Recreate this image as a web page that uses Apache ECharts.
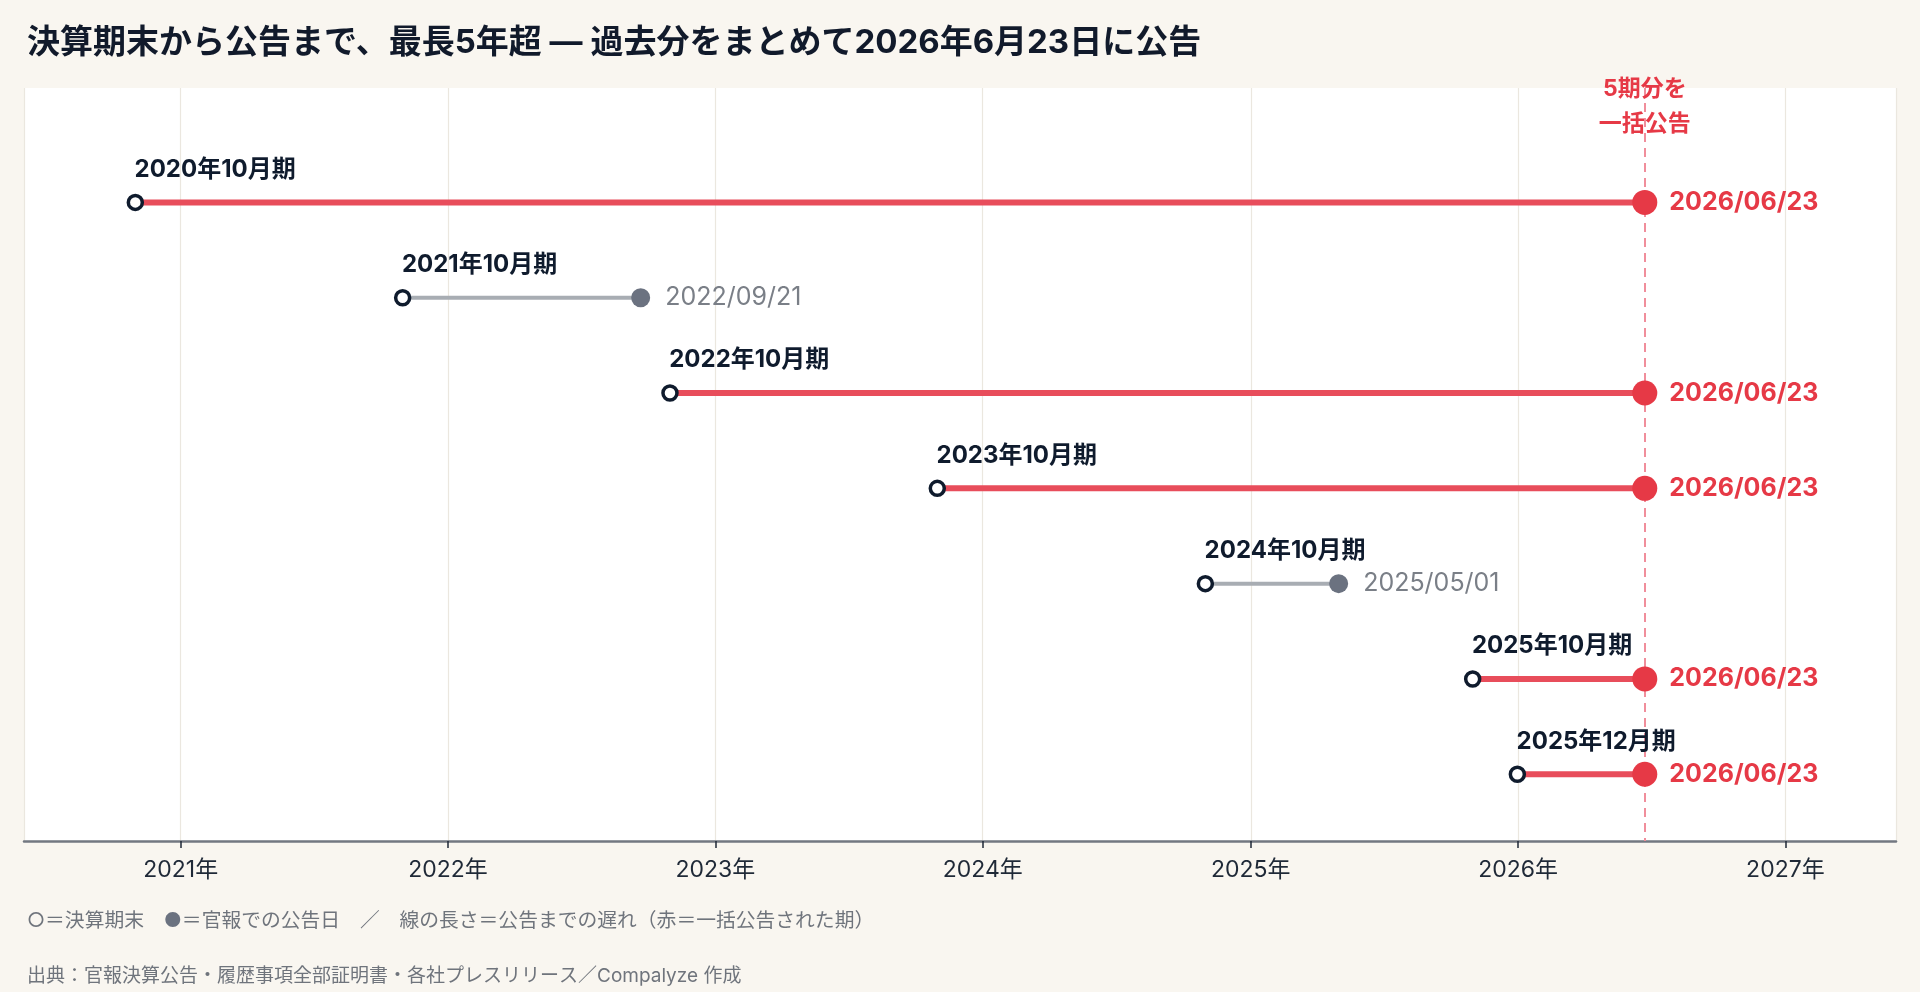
<!DOCTYPE html>
<html>
<head>
<meta charset="utf-8">
<style>
  html, body { margin: 0; padding: 0; background: #f9f6f0; }
  #chart { width: 1920px; height: 992px; }
</style>
<script src="https://cdn.jsdelivr.net/npm/echarts@6/dist/echarts.min.js"></script>
</head>
<body>
<div id="chart"></div>
<script>
const periods = ['2020年10月期','2021年10月期','2022年10月期','2023年10月期','2024年10月期','2025年10月期','2025年12月期'];
const periodEnds = ['2020-10-31','2021-10-31','2022-10-31','2023-10-31','2024-10-31','2025-10-31','2025-12-31'];
const announceDates = ['2026-06-23','2022-09-21','2026-06-23','2026-06-23','2025-05-01','2026-06-23','2026-06-23'];
const isBulk = [true,false,true,true,false,true,true];
const bulkDate = '2026-06-23';
const bulkNote = '5期分を\n一括公告';
const axisMin = '2020-06-01';
const axisMax = '2027-06-01';

const FONT = "Inter, 'Noto Sans CJK JP', sans-serif";
const RED = '#e63946', RED_LINE = '#e84d5b', GREY_DOT = '#6b7280', GREY_LINE = '#a8adb3', NAVY = '#0f1b2d';

const lineSeries = periods.map((p, i) => ({
  type: 'line',
  data: [[periodEnds[i], i], [announceDates[i], i]],
  showSymbol: false,
  symbol: 'none',
  silent: true,
  z: 2,
  lineStyle: { color: isBulk[i] ? RED_LINE : GREY_LINE, width: isBulk[i] ? 6 : 4, cap: 'butt' }
}));

const startData = periodEnds.map((d, i) => ({ value: [d, i], name: periods[i] }));
const redEnd = [], greyEnd = [];
announceDates.forEach((d, i) => {
  const item = { value: [d, i], name: d.replace(/-/g, '/') };
  (isBulk[i] ? redEnd : greyEnd).push(item);
});

const chart = echarts.init(document.getElementById('chart'));
chart.setOption({
  backgroundColor: '#f9f6f0',
  animation: false,
  title: [
    { text: '決算期末から公告まで、最長5年超 ― 過去分をまとめて2026年6月23日に公告', left: 22, top: 18,
      textStyle: { fontFamily: FONT, fontSize: 33, fontWeight: 'bold', color: '#111a2b', lineHeight: 40 } },
    { text: '○＝決算期末　{d|●}＝官報での公告日　／　線の長さ＝公告までの遅れ（赤＝一括公告された期）', left: 22, top: 904,
      textStyle: { fontFamily: FONT, fontSize: 19.8, fontWeight: 'normal', color: '#6f747c', lineHeight: 24,
        rich: { d: { fontFamily: FONT, fontSize: 19.8, color: GREY_DOT, lineHeight: 24 } } } },
    { text: '出典：官報決算公告・履歴事項全部証明書・各社プレスリリース／Compalyze 作成', left: 22, top: 959,
      textStyle: { fontFamily: FONT, fontSize: 19, fontWeight: 'normal', color: '#6f747c', lineHeight: 24 } }
  ],
  grid: { left: 24, right: 24, top: 88, bottom: 151, show: true, backgroundColor: '#ffffff', borderWidth: 0 },
  xAxis: {
    type: 'time',
    min: axisMin,
    max: axisMax,
    minInterval: 365 * 24 * 3600 * 1000,
    maxInterval: 366 * 24 * 3600 * 1000,
    axisLine: { show: true, onZero: false, lineStyle: { color: '#737881', width: 2.5 } },
    axisTick: { show: true, length: 7, lineStyle: { color: '#1f2937', width: 1.5 } },
    splitLine: { show: true, lineStyle: { color: '#ebe7df', width: 1.2 } },
    axisLabel: { formatter: '{yyyy}年', fontFamily: FONT, fontSize: 23, color: '#1f2937', margin: 18, hideOverlap: false, showMinLabel: false, showMaxLabel: false }
  },
  yAxis: { type: 'value', inverse: true, min: -1.2, max: 6.7, show: false, splitLine: { show: false } },
  series: [
    {
      type: 'line',
      data: [],
      silent: true,
      z: 1,
      markLine: {
        silent: true, symbol: ['none', 'none'], animation: false,
        lineStyle: { color: '#f08e9b', type: [9, 6], width: 2 },
        label: { show: false },
        data: [{ xAxis: new Date(bulkDate + 'T00:00:00').getTime() }]
      }
    },
    ...lineSeries,
    {
      type: 'scatter',
      data: [[bulkDate, -1.0]],
      symbolSize: 1,
      itemStyle: { color: 'rgba(255,255,255,0)' },
      silent: true,
      z: 6,
      label: { show: true, position: 'inside', formatter: bulkNote, fontFamily: FONT, fontSize: 23, fontWeight: 'bold', color: RED, lineHeight: 35, opacity: 1 }
    },
    {
      type: 'scatter', data: startData, symbol: 'circle', symbolSize: 14, z: 5,
      itemStyle: { color: '#ffffff', borderColor: NAVY, borderWidth: 3.5, opacity: 1 },
      label: { show: true, position: [8, -24], align: 'left', verticalAlign: 'middle', formatter: p => p.name,
        fontFamily: FONT, fontSize: 24, fontWeight: 'bold', color: NAVY }
    },
    {
      type: 'scatter', data: redEnd, symbol: 'circle', symbolSize: 25, z: 5,
      itemStyle: { color: RED, opacity: 1 },
      label: { show: true, position: 'right', distance: 12, formatter: p => p.name,
        fontFamily: FONT, fontSize: 25, fontWeight: 'bold', color: RED }
    },
    {
      type: 'scatter', data: greyEnd, symbol: 'circle', symbolSize: 19, z: 5,
      itemStyle: { color: GREY_DOT, opacity: 1 },
      label: { show: true, position: 'right', distance: 15, formatter: p => p.name,
        fontFamily: FONT, fontSize: 25, fontWeight: 'normal', color: '#7a7f87' }
    }
  ]
});
</script>
</body>
</html>
